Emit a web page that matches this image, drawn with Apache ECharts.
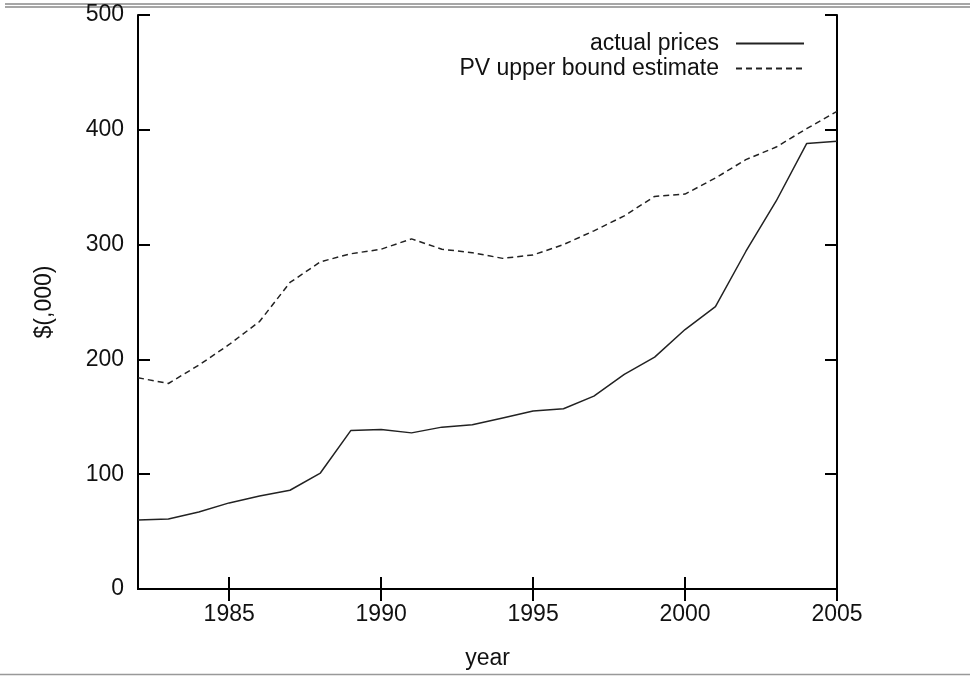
<!DOCTYPE html>
<html>
<head>
<meta charset="utf-8">
<script src="https://cdn.jsdelivr.net/npm/echarts@6/dist/echarts.min.js"></script>
<style>
html, body { margin: 0; padding: 0; background: #fff; }
#chart { width: 970px; height: 676px; }
</style>
</head>
<body>
<div id="chart"></div>
<script>
var years = [1982, 1983, 1984, 1985, 1986, 1987, 1988, 1989, 1990, 1991, 1992, 1993,
             1994, 1995, 1996, 1997, 1998, 1999, 2000, 2001, 2002, 2003, 2004, 2005];
var actualPrices = [60, 61, 67, 75, 81, 86, 101, 138, 139, 136, 141, 143,
                    149, 155, 157, 168, 187, 202, 226, 246, 294, 338, 388, 390];
var pvUpperBound = [184, 179, 195, 213, 233, 267, 285, 292, 296, 305, 296, 293,
                    288, 291, 300, 312, 325, 342, 344, 358, 374, 385, 401, 416];
var xTicks = [1985, 1990, 1995, 2000, 2005];

function pairs(vals) {
  return years.map(function (y, i) { return [y, vals[i]]; });
}

var font = 'Liberation Sans, Arial, sans-serif';
var chart = echarts.init(document.getElementById('chart'), null, {renderer: 'canvas'});
var option = {
  animation: false,
  backgroundColor: '#fff',
  grid: {left: 138, top: 15, right: 133, bottom: 87, outerBoundsMode: 'none', containLabel: false},
  legend: {
    orient: 'vertical',
    align: 'right',
    right: 160,
    top: 27,
    itemWidth: 68,
    itemHeight: 14,
    itemGap: 2,
    itemStyle: {opacity: 0},
    textStyle: {fontFamily: font, fontSize: 23, color: '#111', padding: [0, 12, 0, 0]},
    data: ['actual prices', 'PV upper bound estimate']
  },
  xAxis: [{
    type: 'value', min: 1982, max: 2005,
    name: 'year', nameLocation: 'middle', nameGap: 58,
    nameTextStyle: {fontFamily: font, fontSize: 23, color: '#111'},
    axisLine: {lineStyle: {color: '#000', width: 2}},
    axisTick: {inside: true, length: 12, lineStyle: {color: '#000', width: 2}, customValues: xTicks},
    axisLabel: {fontFamily: font, fontSize: 23, color: '#111', margin: 14, customValues: xTicks,
                formatter: function (v) { return String(v); }},
    splitLine: {show: false}
  }, {
    type: 'value', min: 1982, max: 2005, position: 'top',
    axisLine: {lineStyle: {color: '#000', width: 2}},
    axisTick: {inside: true, length: 12, lineStyle: {color: '#000', width: 2}, customValues: xTicks},
    axisLabel: {show: false},
    splitLine: {show: false}
  }],
  yAxis: [{
    type: 'value', min: 0, max: 500, interval: 100,
    name: '$(,000)', nameLocation: 'middle', nameGap: 82, nameRotate: 90,
    nameTextStyle: {fontFamily: font, fontSize: 23, color: '#111'},
    axisLine: {show: true, lineStyle: {color: '#000', width: 2}},
    axisTick: {show: true, inside: true, length: 12, lineStyle: {color: '#000', width: 2}},
    axisLabel: {fontFamily: font, fontSize: 23, color: '#111', margin: 14},
    splitLine: {show: false}
  }, {
    type: 'value', min: 0, max: 500, interval: 100, position: 'right',
    axisLine: {show: true, lineStyle: {color: '#000', width: 2}},
    axisTick: {show: true, inside: true, length: 12, lineStyle: {color: '#000', width: 2}},
    axisLabel: {show: false},
    splitLine: {show: false}
  }],
  series: [{
    name: 'actual prices',
    type: 'line',
    symbol: 'none',
    data: pairs(actualPrices),
    lineStyle: {color: '#222', width: 1.5, type: 'solid'},
    itemStyle: {color: '#222'}
  }, {
    name: 'PV upper bound estimate',
    type: 'line',
    symbol: 'none',
    data: pairs(pvUpperBound),
    lineStyle: {color: '#222', width: 1.5, type: [6, 4]},
    itemStyle: {color: '#222'}
  }],
  graphic: [
    {type: 'line', shape: {x1: 5, y1: 4, x2: 970, y2: 4}, style: {stroke: '#888', lineWidth: 1.5}},
    {type: 'line', shape: {x1: 5, y1: 7, x2: 970, y2: 7}, style: {stroke: '#888', lineWidth: 1.5}},
    {type: 'line', shape: {x1: 0, y1: 674.5, x2: 970, y2: 674.5}, style: {stroke: '#999', lineWidth: 1.5}}
  ]
};
chart.setOption(option);
</script>
</body>
</html>
